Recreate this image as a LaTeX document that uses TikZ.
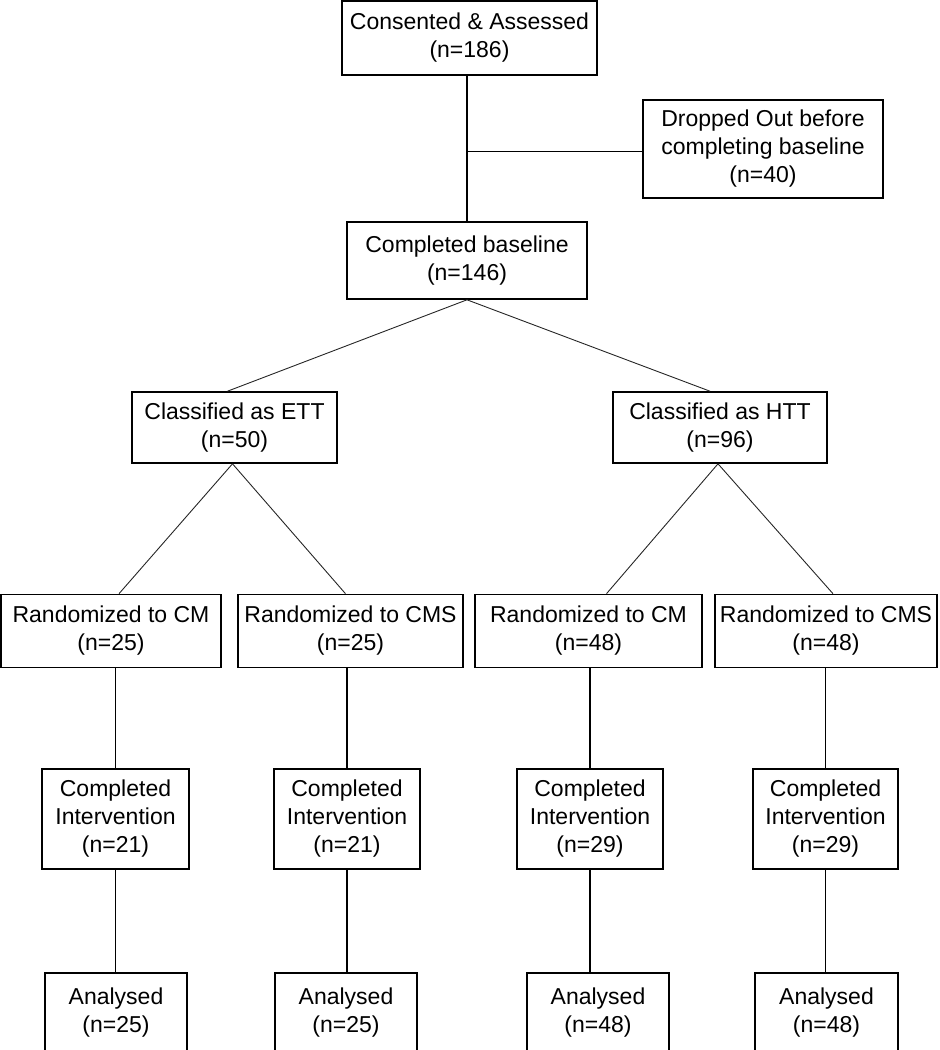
\documentclass[tikz,border=0pt]{standalone}
\usepackage{fontspec}
\setmainfont{Liberation Sans}
\begin{document}
\begin{tikzpicture}[x=1pt,y=-1pt,
  box/.style={draw=black, line width=1.6pt, fill=white, align=center, inner sep=2pt,
    font=\fontsize{23}{28}\selectfont},
  conn/.style={draw=black, line width=1.1pt},
  diag/.style={draw=black!85, line width=0.9pt}]
\useasboundingbox (0,0) rectangle (940,1050);
\clip (0,0) rectangle (940,1050);
% row 1
\node[box, minimum width=255pt, minimum height=74pt] (cons) at (469.5,38) {Consented \& Assessed\\(n=186)};
\node[box, minimum width=240pt, minimum height=98pt] (drop) at (763,149) {Dropped Out before\\completing baseline\\(n=40)};
\node[box, minimum width=240pt, minimum height=77pt] (cb) at (467,260.5) {Completed baseline\\(n=146)};
% classified
\node[box, minimum width=205pt, minimum height=71pt] (ett) at (234.5,427.5) {Classified as ETT\\(n=50)};
\node[box, minimum width=214pt, minimum height=71pt] (htt) at (720,427.5) {Classified as HTT\\(n=96)};
% randomized
\node[box, minimum width=220pt, minimum height=73pt] (r1) at (111,631) {Randomized to CM\\(n=25)};
\node[box, minimum width=225pt, minimum height=73pt] (r2) at (350.5,631) {Randomized to CMS\\(n=25)};
\node[box, minimum width=227pt, minimum height=73pt] (r3) at (588.5,631) {Randomized to CM\\(n=48)};
\node[box, minimum width=222pt, minimum height=73pt] (r4) at (826,631) {Randomized to CMS\\(n=48)};
% completed intervention
\node[box, minimum width=147pt, minimum height=100pt] (c1) at (115.5,819) {Completed\\Intervention\\(n=21)};
\node[box, minimum width=146pt, minimum height=100pt] (c2) at (347,819) {Completed\\Intervention\\(n=21)};
\node[box, minimum width=146pt, minimum height=100pt] (c3) at (590,819) {Completed\\Intervention\\(n=29)};
\node[box, minimum width=145pt, minimum height=100pt] (c4) at (825.5,819) {Completed\\Intervention\\(n=29)};
% analysed
\node[box, minimum width=142pt, minimum height=80pt] (a1) at (116,1013) {Analysed\\(n=25)};
\node[box, minimum width=142pt, minimum height=80pt] (a2) at (346,1013) {Analysed\\(n=25)};
\node[box, minimum width=142pt, minimum height=80pt] (a3) at (598,1013) {Analysed\\(n=48)};
\node[box, minimum width=143pt, minimum height=80pt] (a4) at (826.5,1013) {Analysed\\(n=48)};
% connectors
\draw[conn] (cb.north) -- (cb.north |- cons.south);
\draw[conn, line width=1.8pt] ([yshift=-2.5pt]drop.west) -- ([yshift=-2.5pt]drop.west -| cb.north);
\draw[diag] (cb.south) -- ([xshift=-7pt]ett.north);
\draw[diag] (cb.south) -- ([xshift=-10pt]htt.north);
\draw[diag] ([xshift=-2pt]ett.south) -- ([xshift=8pt]r1.north);
\draw[diag] ([xshift=-2pt]ett.south) -- ([xshift=-5pt]r2.north);
\draw[diag] ([xshift=-2pt]htt.south) -- ([xshift=18pt]r3.north);
\draw[diag] ([xshift=-2pt]htt.south) -- ([xshift=7pt]r4.north);
\draw[conn] (c1.north) -- (c1.north |- r1.south);
\draw[conn] (c2.north) -- (c2.north |- r2.south);
\draw[conn] (c3.north) -- (c3.north |- r3.south);
\draw[conn] (c4.north) -- (c4.north |- r4.south);
\draw[conn] (c1.south) -- (c1.south |- a1.north);
\draw[conn] (c2.south) -- (c2.south |- a2.north);
\draw[conn] (c3.south) -- (c3.south |- a3.north);
\draw[conn] (c4.south) -- (c4.south |- a4.north);
\end{tikzpicture}
\end{document}
